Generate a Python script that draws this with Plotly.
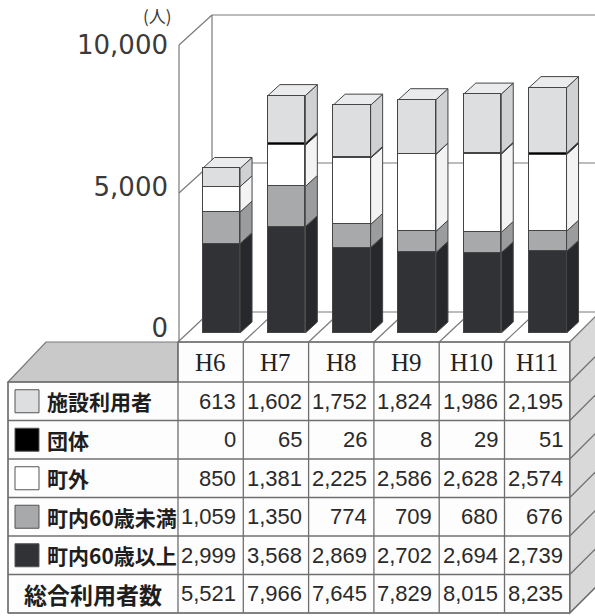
import plotly.graph_objects as go

# ---------------- data ----------------
years = ["H6", "H7", "H8", "H9", "H10", "H11"]
shisetsu = [613, 1602, 1752, 1824, 1986, 2195]      # 施設利用者
dantai = [0, 65, 26, 8, 29, 51]                      # 団体
chogai = [850, 1381, 2225, 2586, 2628, 2574]         # 町外
under60 = [1059, 1350, 774, 709, 680, 676]           # 町内60歳未満
over60 = [2999, 3568, 2869, 2702, 2694, 2739]        # 町内60歳以上
totals = [5521, 7966, 7645, 7829, 8015, 8235]        # 総合利用者数
tick_vals = [0, 5000, 10000]
tick_text = ["0", "5,000", "10,000"]
unit_label = "(人)"

# series: (name, values, front colour, side colour)
stack = [
    ("町内60歳以上", over60, "#303236", "#26282b"),
    ("町内60歳未満", under60, "#a7a9ab", "#9a9c9e"),
    ("町外", chogai, "#ffffff", "#f3f3f3"),
    ("団体", dantai, "#000000", "#000000"),
    ("施設利用者", shisetsu, "#dcdee0", "#cfd1d3"),
]
table_rows = [stack[4], stack[3], stack[2], stack[1], stack[0]]
total_label = "総合利用者数"

# ---------------- geometry ----------------
W, H = 595, 616
PL, PR, PT, PB = 180, 595, 35, 333
COLW = 65.3
XR0 = -(221.3 - PL) / COLW
XR1 = XR0 + (PR - PL) / COLW
BW = 0.574
DX = 12 / COLW
DY = 11 * 10000 / (PB - PT)


def px(x):
    return (x - PL) / (PR - PL)


def py(y):
    return (PB - y) / (PB - PT)


fig = go.Figure()
xs = list(range(len(years)))
for name, vals, col, side in stack:
    fig.add_trace(go.Bar(
        x=xs, y=vals, name=name, width=BW,
        marker=dict(color=col, line=dict(color="#454545", width=1)),
        hoverinfo="skip", showlegend=False,
    ))
# hidden trace binding the front-edge label axis
fig.add_trace(go.Scatter(x=[], y=[], yaxis="y2", showlegend=False))

shapes = []
LINE = dict(color="#7a7a7a", width=1.2)


def pline(x0, y0, x1, y1, line=LINE):
    shapes.append(dict(type="line", xref="paper", yref="paper",
                       x0=px(x0), y0=py(y0), x1=px(x1), y1=py(y1),
                       line=line, layer="below"))


def ppoly(pts, fill, line=LINE, layer="below"):
    d = "M " + " L ".join(f"{px(a):.5f},{py(b):.5f}" for a, b in pts) + " Z"
    shapes.append(dict(type="path", xref="paper", yref="paper", path=d,
                       fillcolor=fill, line=line, layer=layer))


# 3D wall / floor decoration
pline(179, 45, 179, 342)
pline(179, 45, 212, 15)
pline(212, 15, 595, 15)
pline(212, 15, 212, 312)
pline(179, 193, 212, 163)
pline(212, 163, 595, 163)
pline(212, 312, 595, 312)
col_edges = [178 + COLW * i for i in range(len(years) + 1)]
for xb in col_edges:
    pline(xb, 342, xb + 32, 312)

# bar side and top faces in data coordinates
for i in xs:
    base = 0
    for name, vals, col, side in stack:
        v = vals[i]
        if v > 0:
            xr = i + BW / 2
            d = (f"M {xr},{base} L {xr + DX},{base + DY} "
                 f"L {xr + DX},{base + v + DY} L {xr},{base + v} Z")
            shapes.append(dict(type="path", xref="x", yref="y", path=d,
                               fillcolor=side,
                               line=dict(color="#454545", width=1),
                               layer="below"))
        base += v
    xl = i - BW / 2
    xr = i + BW / 2
    d = (f"M {xl},{base} L {xl + DX},{base + DY} L {xr + DX},{base + DY} "
         f"L {xr},{base} Z")
    shapes.append(dict(type="path", xref="x", yref="y", path=d,
                       fillcolor="#e9ebed",
                       line=dict(color="#454545", width=1), layer="below"))

# ---------------- table ----------------
TL, TR = 8, col_edges[-1]
HEAD_T, HEAD_B = 342, 382
ROWH = (613 - HEAD_B) / 6
row_edges = [HEAD_B + ROWH * k for k in range(7)]
TB = row_edges[-1]

ppoly([(TL, HEAD_B), (46, HEAD_T), (178, HEAD_T), (178, HEAD_B)], "#c9c9c9")
ppoly([(178, HEAD_T), (TR, HEAD_T), (TR, TB), (TL, TB), (TL, HEAD_B),
       (178, HEAD_B)], "#fdfdfd")
ppoly([(TR, HEAD_T), (TR + 30, HEAD_T - 30), (TR + 30, TB - 30), (TR, TB)],
      "#d9d9d9")
GRID = dict(color="#6f6f6f", width=1.3)
for ry in row_edges:
    pline(TL, ry, TR, ry, GRID)
    pline(TR, ry, TR + 30, ry - 30, GRID)
pline(178, HEAD_T, TR, HEAD_T, GRID)
pline(TL, HEAD_B, TL, TB, GRID)
for xb in col_edges:
    pline(xb, HEAD_T, xb, TB, GRID)

ann = []
NUMFONT = dict(family="Liberation Sans, Arial, sans-serif", size=22,
               color="#2a2a2a")
for i, yr in enumerate(years):
    ann.append(dict(x=px(col_edges[i] + COLW / 2), y=py((HEAD_T + HEAD_B) / 2),
                    xref="paper", yref="paper", text=yr, showarrow=False,
                    font=dict(family="Liberation Serif", size=25, color="#222"),
                    xanchor="center", yanchor="middle"))

for k, (name, vals, col, side) in enumerate(table_rows):
    cy = (row_edges[k] + row_edges[k + 1]) / 2
    ppoly([(15, cy - 11.5), (39, cy - 11.5), (39, cy + 11.5), (15, cy + 11.5)],
          col, line=dict(color="#555", width=1), layer="above")
    ann.append(dict(x=px(45), y=py(cy), xref="paper", yref="paper", text=name,
                    showarrow=False, xanchor="left", yanchor="middle",
                    font=dict(family="Noto Sans CJK JP", size=21, color="#1e1e1e",
                              weight="bold")))
    for i, v in enumerate(vals):
        ann.append(dict(x=px(col_edges[i + 1] - 5), y=py(cy), xref="paper",
                        yref="paper", text=f"{v:,}", showarrow=False,
                        xanchor="right", yanchor="middle", font=NUMFONT))
cy = (row_edges[5] + row_edges[6]) / 2
ann.append(dict(x=px(93), y=py(cy), xref="paper", yref="paper", text=total_label,
                showarrow=False, xanchor="center", yanchor="middle",
                font=dict(family="Noto Sans CJK JP", size=23, color="#1e1e1e",
                          weight="bold")))
for i, v in enumerate(totals):
    ann.append(dict(x=px(col_edges[i + 1] - 5), y=py(cy), xref="paper",
                    yref="paper", text=f"{v:,}", showarrow=False,
                    xanchor="right", yanchor="middle", font=NUMFONT))

ann.append(dict(x=px(157), y=py(15), xref="paper", yref="paper", text=unit_label,
                showarrow=False, xanchor="center", yanchor="middle",
                font=dict(family="Noto Sans CJK JP", size=17, color="#3a3a3a")))

# front-edge label scale: 0 -> 328px, 10000 -> 45px
s = (328 - 45) / 10000
y2lo = -(PB - 328) / s
y2hi = y2lo + (PB - PT) / s

fig.update_layout(
    width=W, height=H, autosize=False,
    margin=dict(l=PL, r=W - PR, t=PT, b=H - PB),
    paper_bgcolor="white", plot_bgcolor="rgba(0,0,0,0)",
    barmode="stack", bargap=0,
    xaxis=dict(range=[XR0, XR1], visible=False, fixedrange=True),
    yaxis=dict(range=[0, 10000], visible=False, fixedrange=True),
    yaxis2=dict(range=[y2lo, y2hi], overlaying="y", side="left", anchor="x",
                tickvals=tick_vals, ticktext=tick_text, showgrid=False,
                zeroline=False, showline=False, ticks="", ticklabelstandoff=11,
                tickfont=dict(family="DejaVu Sans", size=26, color="#3a3a3a"),
                fixedrange=True),
    shapes=shapes, annotations=ann, showlegend=False,
)

fig.write_html("out.html")
